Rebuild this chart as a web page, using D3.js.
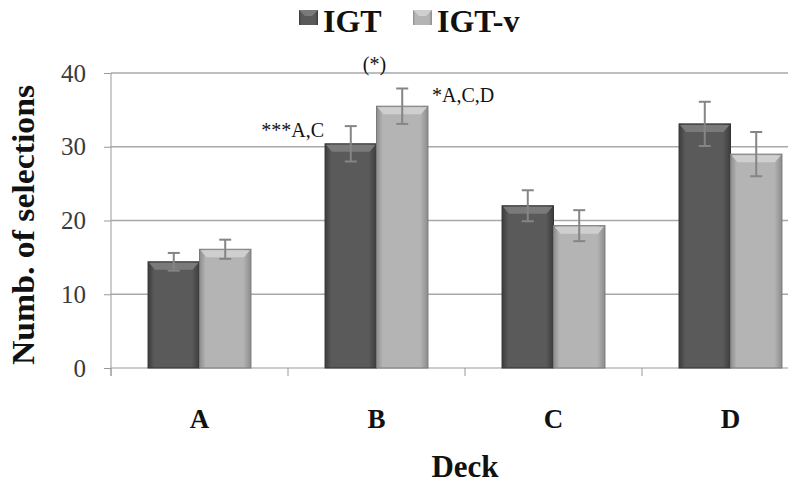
<!DOCTYPE html>
<html>
<head>
<meta charset="utf-8">
<script src="https://cdn.jsdelivr.net/npm/d3@7"></script>
<style>
  body { margin: 0; background: #fff; }
  svg { display: block; }
  svg text { font-family: "Liberation Serif", "Times New Roman", serif; }
</style>
</head>
<body>
<svg id="chart" width="797" height="484"></svg>
<script>
var decks = ["A", "B", "C", "D"];
var seriesNames = ["IGT", "IGT-v"];
var igt = [14.4, 30.4, 22.0, 33.1];
var igtErr = [1.2, 2.4, 2.1, 3.0];
var igtv = [16.1, 35.5, 19.3, 29.0];
var igtvErr = [1.3, 2.4, 2.1, 3.0];
var yTicks = [0, 10, 20, 30, 40];

var svg = d3.select("#chart");
var mLeft = 111, mRight = 819, mTop = 73, mBottom = 368, clipRight = 788;

var x = d3.scaleBand().domain(decks).range([mLeft, mRight]);
var xs = d3.scaleBand().domain(seriesNames).range([0, x.bandwidth()]).paddingOuter(0.72).paddingInner(0);
var y = d3.scaleLinear().domain([0, 40]).range([mBottom, mTop]);

// gradients for bevelled bars
var defs = svg.append("defs");
function grad(id, edge, mid) {
  var g = defs.append("linearGradient").attr("id", id).attr("x1", 0).attr("x2", 1).attr("y1", 0).attr("y2", 0);
  g.append("stop").attr("offset", "0%").attr("stop-color", edge);
  g.append("stop").attr("offset", "12%").attr("stop-color", mid);
  g.append("stop").attr("offset", "85%").attr("stop-color", mid);
  g.append("stop").attr("offset", "100%").attr("stop-color", edge);
}
grad("g0", "#3c3c3c", "#5a5a5a");
grad("g1", "#8c8c8c", "#b4b4b4");
defs.append("clipPath").attr("id", "plotclip").append("rect")
  .attr("x", 0).attr("y", 0).attr("width", clipRight).attr("height", 484);

var plot = svg.append("g").attr("clip-path", "url(#plotclip)");

// gridlines
plot.append("g").selectAll("line").data(yTicks.slice(1)).join("line")
  .attr("x1", mLeft).attr("x2", clipRight)
  .attr("y1", function(d){ return y(d); }).attr("y2", function(d){ return y(d); })
  .attr("stroke", "#a8a8a8").attr("stroke-width", 1.5);

// axes
var yAxis = svg.append("g").attr("transform", "translate(" + mLeft + ",0)")
  .call(d3.axisLeft(y).tickValues(yTicks).tickSize(7).tickPadding(18));
yAxis.select(".domain").attr("stroke", "#999").attr("d", "M0," + mTop + "V" + (mBottom + 8));
yAxis.selectAll(".tick line").attr("stroke", "#999");
yAxis.selectAll("text").attr("font-size", 25).attr("fill", "#3a3a3a");

var xAxis = plot.append("g").attr("transform", "translate(0," + mBottom + ")");
xAxis.append("line").attr("x1", mLeft).attr("x2", clipRight).attr("stroke", "#999");
xAxis.selectAll("line.t").data(decks.concat(["end"])).join("line").attr("class", "t")
  .attr("x1", function(d, i){ return mLeft + i * x.step(); })
  .attr("x2", function(d, i){ return mLeft + i * x.step(); })
  .attr("y1", 0).attr("y2", 8).attr("stroke", "#999");

var data = [];
decks.forEach(function(d, i) {
  data.push({deck: d, s: "IGT", v: igt[i], e: igtErr[i], k: 0});
  data.push({deck: d, s: "IGT-v", v: igtv[i], e: igtvErr[i], k: 1});
});

var bars = plot.append("g").selectAll("g").data(data).join("g")
  .attr("transform", function(d){ return "translate(" + (x(d.deck) + xs(d.s)) + ",0)"; });
var bw = xs.bandwidth();
bars.append("rect")
  .attr("x", 0).attr("width", bw)
  .attr("y", function(d){ return y(d.v); })
  .attr("height", function(d){ return y(0) - y(d.v); })
  .attr("fill", function(d){ return "url(#g" + d.k + ")"; })
  .attr("stroke", function(d){ return d.k ? "#7a7a7a" : "#333"; }).attr("stroke-width", 1);
// top bevel
bars.append("path")
  .attr("d", function(d) {
    var t = y(d.v);
    return "M1," + (t + 1) + "L" + (bw - 1) + "," + (t + 1) + "L" + (bw - 7) + "," + (t + 8) + "L7," + (t + 8) + "Z";
  })
  .attr("fill", function(d){ return d.k ? "#cfcfcf" : "#7a7a7a"; });

// error bars
var eb = bars.append("g").attr("stroke", "#858585").attr("stroke-width", 2);
eb.append("line").attr("x1", bw / 2).attr("x2", bw / 2)
  .attr("y1", function(d){ return y(d.v + d.e); }).attr("y2", function(d){ return y(d.v - d.e); });
eb.append("line").attr("x1", bw / 2 - 6).attr("x2", bw / 2 + 6)
  .attr("y1", function(d){ return y(d.v + d.e); }).attr("y2", function(d){ return y(d.v + d.e); });
eb.append("line").attr("x1", bw / 2 - 6).attr("x2", bw / 2 + 6)
  .attr("y1", function(d){ return y(d.v - d.e); }).attr("y2", function(d){ return y(d.v - d.e); });

// category labels
svg.append("g").selectAll("text").data(decks).join("text")
  .attr("x", function(d){ return x(d) + x.bandwidth() / 2; })
  .attr("y", 428).attr("text-anchor", "middle")
  .attr("font-size", 27).attr("font-weight", "bold").attr("fill", "#111")
  .text(function(d){ return d; });

// annotations
svg.append("text").attr("x", x("B") + xs("IGT") - 1).attr("y", 137)
  .attr("text-anchor", "end").attr("font-size", 20).attr("fill", "#111").text("***A,C");
svg.append("text").attr("x", x("B") + xs("IGT-v") - 2).attr("y", 71)
  .attr("text-anchor", "middle").attr("font-size", 20).attr("fill", "#111").text("(*)");
svg.append("text").attr("x", x("B") + xs("IGT-v") + bw + 4).attr("y", 102)
  .attr("text-anchor", "start").attr("font-size", 20).attr("fill", "#111").text("*A,C,D");

// axis titles
svg.append("text").attr("transform", "translate(34,225) rotate(-90)")
  .attr("text-anchor", "middle").attr("font-size", 32).attr("font-weight", "bold").attr("fill", "#111")
  .attr("textLength", 280).attr("lengthAdjust", "spacingAndGlyphs")
  .text("Numb. of selections");
svg.append("text").attr("x", 465).attr("y", 477)
  .attr("text-anchor", "middle").attr("font-size", 31).attr("font-weight", "bold").attr("fill", "#111")
  .text("Deck");

// legend
var legend = svg.append("g");
var legendX = [299, 413];
seriesNames.forEach(function(s, i) {
  var g = legend.append("g").attr("transform", "translate(" + legendX[i] + ",0)");
  g.append("rect").attr("x", 0).attr("y", 10).attr("width", 19).attr("height", 15)
    .attr("fill", "url(#g" + i + ")");
  g.append("path").attr("d", "M0,10L19,10L13,16L6,16Z").attr("fill", i ? "#cfcfcf" : "#7a7a7a");
  g.append("text").attr("x", 24).attr("y", 32).attr("font-size", 32).attr("font-weight", "bold")
    .attr("fill", "#111").text(s);
});
</script>
</body>
</html>
